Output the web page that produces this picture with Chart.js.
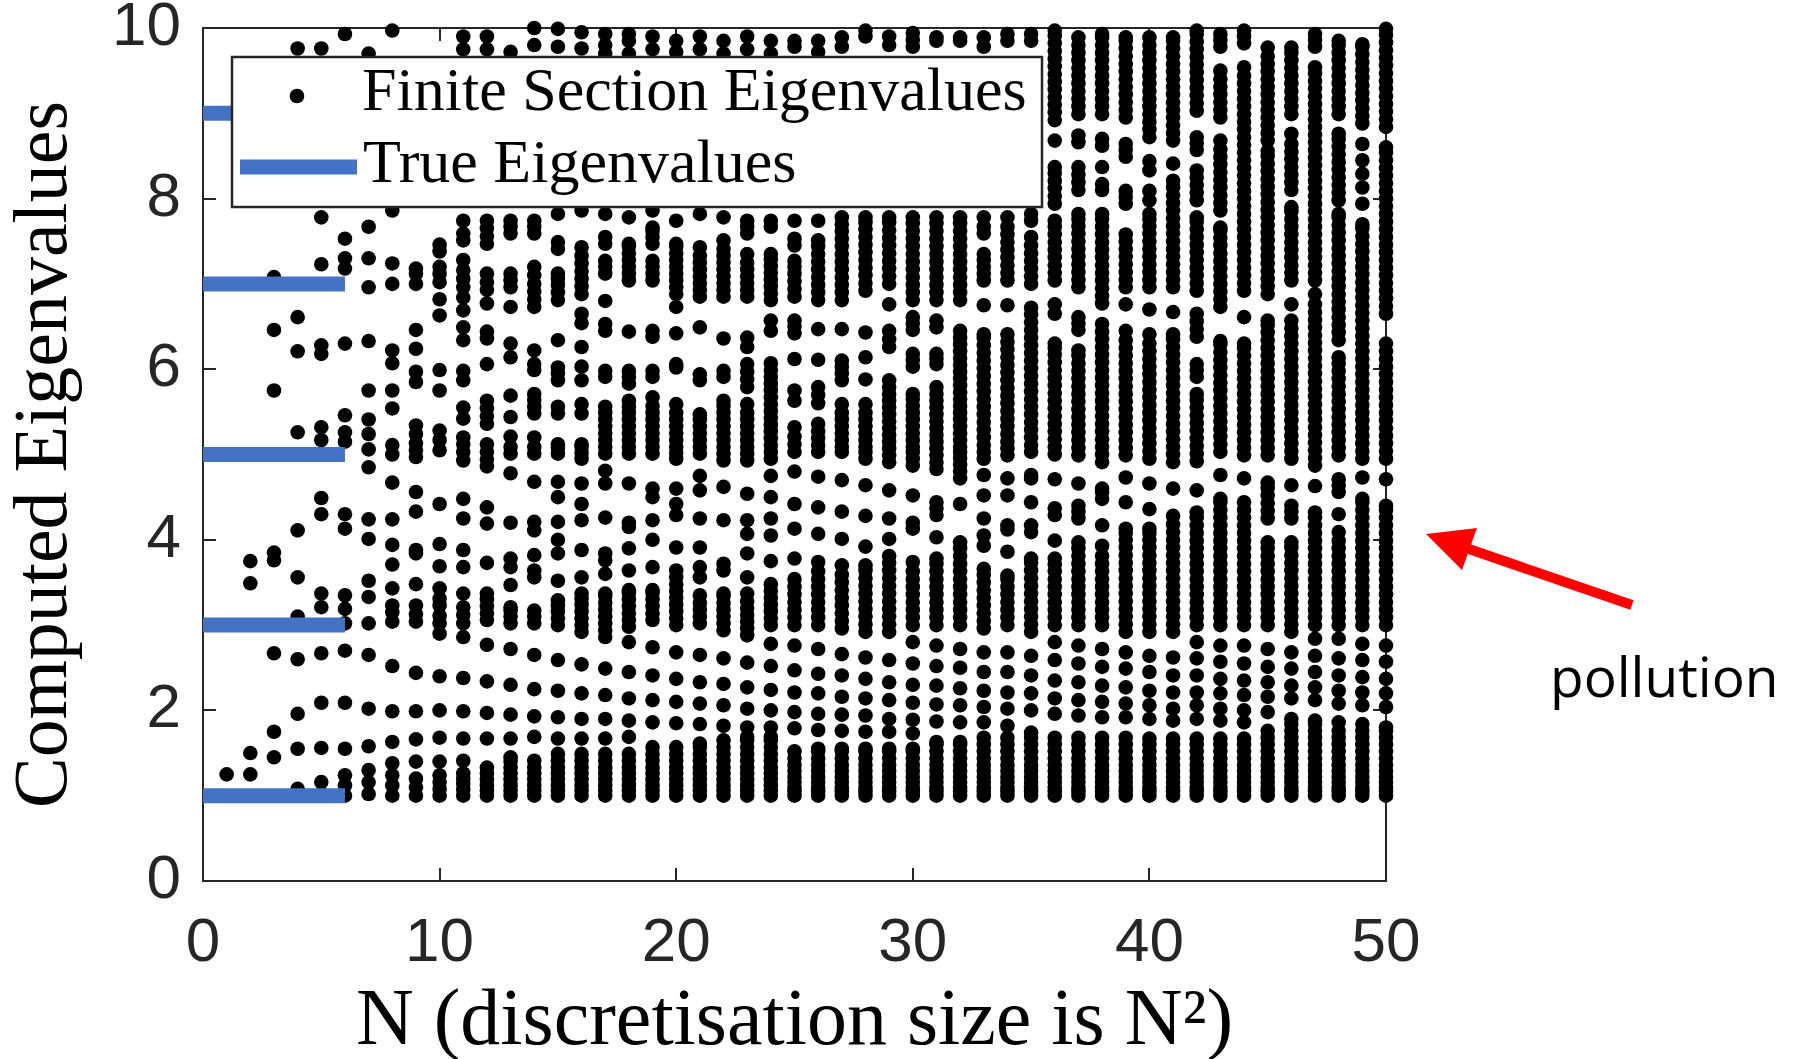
<!DOCTYPE html>
<html><head><meta charset="utf-8">
<script src="https://cdn.jsdelivr.net/npm/chart.js@4.4.1/dist/chart.umd.min.js"></script>
<style>
html,body{margin:0;padding:0;background:#fff;overflow:hidden}
#wrap{position:relative;width:1806px;height:1059px}
#c{position:absolute;left:0;top:0}
#ov{position:absolute;left:0;top:0}
</style></head><body>
<div id="wrap"><canvas id="c" width="1806" height="1059"></canvas>
<svg id="ov" width="1806" height="1059" xmlns="http://www.w3.org/2000/svg">
  <rect x="232" y="57" width="810" height="150" fill="#fff" stroke="#262626" stroke-width="2.5"/>
  <circle cx="297" cy="96" r="7.3" fill="#000"/>
  <line x1="240" y1="167" x2="357" y2="167" stroke="#4472C4" stroke-width="15"/>
  <text x="362" y="110" font-family="'Liberation Serif', serif" font-size="62" fill="#000">Finite Section Eigenvalues</text>
  <text x="363" y="182" font-family="'Liberation Serif', serif" font-size="62" fill="#000">True Eigenvalues</text>
  <line x1="1632" y1="605" x2="1466" y2="548" stroke="#FF0000" stroke-width="10"/>
  <polygon points="1426,534 1477,528 1462,570" fill="#FF0000"/>
  <text x="1550" y="697" font-family="'Open Sans', sans-serif" font-size="55" fill="#000">pollution</text>
</svg></div>
<script>
const N_values = [1,2,3,4,5,6,7,8,9,10,11,12,13,14,15,16,17,18,19,20,21,22,23,24,25,26,27,28,29,30,31,32,33,34,35,36,37,38,39,40,41,42,43,44,45,46,47,48,49,50];
const xTicks = [0,10,20,30,40,50];
const yTicks = [0,2,4,6,8,10];
const trueEigenvalues = [1,3,5,7,9];
const trueLineN = [0,6];

const col01 = [1.25];
const col02 = [1.25,1.50,3.49,3.75];
const col03 = [1.45,1.75,2.67,3.76,3.85,5.75,6.46,7.08];
const col04 = [1.08,1.55,1.96,2.60,3.10,3.56,4.11,5.26,6.21,6.61,9.76];
const col05 = [1.02,1.16,1.56,2.09,2.67,3.21,3.37,4.30,4.49,5.17,5.32,6.18,6.28,7.23,7.78,9.76];
const col06 = [1.00,1.12,1.24,1.55,2.09,2.70,3.02,3.19,3.35,4.13,4.30,5.15,5.26,5.46,6.30,7.18,7.30,7.53,9.93];
const col07 = [1.02,1.16,1.30,1.58,2.02,2.65,3.02,3.33,3.52,4.01,4.24,4.85,5.06,5.24,5.41,5.75,6.33,6.96,7.30,7.67,9.70];
const col08 = [1.00,1.12,1.24,1.38,1.63,1.99,2.52,3.04,3.15,3.23,3.43,3.71,3.94,4.24,4.67,5.00,5.11,5.54,5.75,6.07,6.22,7.00,7.24,7.86,9.97];
const col09 = [1.00,1.10,1.20,1.40,1.66,1.99,2.44,3.04,3.13,3.23,3.48,3.84,3.88,4.33,4.56,4.97,5.05,5.13,5.24,5.34,5.85,5.97,6.24,6.46,7.00,7.12,7.18];
const col10 = [1.00,1.08,1.16,1.24,1.40,1.68,2.00,2.40,2.90,3.02,3.11,3.23,3.31,3.43,3.69,3.95,4.42,5.05,5.17,5.28,5.75,5.99,6.63,6.82,7.02,7.12,7.20,7.38,7.46];
const col11 = [1.00,1.07,1.14,1.20,1.26,1.41,1.67,1.99,2.38,2.86,3.02,3.12,3.21,3.37,3.68,3.88,4.25,4.48,4.93,5.03,5.12,5.20,5.42,5.55,5.87,5.98,6.34,6.49,6.69,6.84,6.96,7.06,7.16,7.28,7.51,7.59,7.74,9.75,9.90];
const col12 = [1.00,1.06,1.12,1.19,1.26,1.33,1.67,1.97,2.34,2.77,3.06,3.14,3.22,3.30,3.37,3.73,4.19,4.38,4.86,4.94,5.03,5.12,5.36,5.45,5.54,5.63,6.06,6.36,6.44,6.77,6.93,7.02,7.12,7.47,7.56,7.65,7.74,9.75,9.90];
const col13 = [1.00,1.06,1.12,1.19,1.26,1.33,1.40,1.45,1.67,1.95,2.30,2.72,3.02,3.10,3.17,3.21,3.47,3.68,3.78,4.20,4.78,5.01,5.09,5.21,5.44,5.69,6.14,6.30,6.73,6.96,7.04,7.12,7.59,7.67,7.74,9.72];
const col14 = [1.00,1.06,1.12,1.19,1.26,1.33,1.41,1.69,1.93,2.25,2.65,3.02,3.10,3.17,3.56,3.64,3.82,4.11,4.21,4.68,5.01,5.09,5.20,5.48,5.56,5.64,5.71,5.99,6.06,6.22,6.73,6.82,6.91,7.00,7.10,7.20,7.59,7.67,7.74,9.80,10.00];
const col15 = [1.00,1.06,1.12,1.19,1.26,1.33,1.41,1.49,1.67,1.92,2.23,2.59,3.00,3.08,3.16,3.23,3.29,3.52,3.84,4.00,4.21,4.50,4.68,5.01,5.08,5.12,5.48,5.56,5.87,5.95,6.02,6.34,6.81,6.90,6.99,7.06,7.12,7.41,7.49,7.82,9.78,9.99];
const col16 = [1.00,1.06,1.12,1.19,1.26,1.33,1.41,1.49,1.67,1.90,2.20,2.54,2.92,3.00,3.08,3.16,3.24,3.31,3.37,3.56,3.88,4.23,4.42,4.66,4.95,5.02,5.09,5.12,5.48,5.59,5.87,6.03,6.26,6.54,6.65,6.88,6.97,7.06,7.15,7.24,7.33,7.43,7.86,9.76,9.95];
const col17 = [1.00,1.06,1.12,1.19,1.26,1.33,1.41,1.49,1.67,1.90,2.18,2.49,2.86,2.94,3.02,3.10,3.18,3.26,3.34,3.37,3.60,3.76,3.84,4.26,4.66,4.81,5.01,5.09,5.17,5.25,5.33,5.41,5.49,5.56,5.91,5.98,6.45,6.53,6.80,7.12,7.20,7.27,7.47,7.55,7.82,9.70,9.80,9.93];
const col18 = [1.00,1.06,1.12,1.19,1.26,1.33,1.41,1.49,1.69,1.88,2.14,2.45,2.80,2.98,3.06,3.14,3.22,3.30,3.38,3.41,3.64,3.90,4.15,4.20,4.66,5.01,5.09,5.17,5.25,5.33,5.41,5.49,5.56,5.63,5.83,5.91,5.98,6.44,7.04,7.12,7.20,7.28,7.36,7.44,7.47,7.78,9.70,9.85,9.93];
const col19 = [1.00,1.06,1.12,1.19,1.26,1.33,1.41,1.49,1.57,1.86,2.12,2.41,2.74,3.06,3.14,3.22,3.30,3.38,3.41,3.68,4.00,4.23,4.50,4.60,5.01,5.09,5.17,5.25,5.33,5.41,5.49,5.57,5.67,5.91,5.98,6.38,6.45,7.04,7.12,7.20,7.27,7.47,7.55,7.62,7.66,7.86,9.75,9.90];
const col20 = [1.00,1.06,1.12,1.19,1.26,1.33,1.41,1.49,1.57,1.85,2.10,2.37,2.68,3.00,3.08,3.16,3.24,3.32,3.40,3.48,3.56,3.64,3.91,4.29,4.42,4.60,4.95,5.02,5.09,5.17,5.25,5.33,5.41,5.49,5.59,6.02,6.06,6.42,6.73,6.88,6.96,7.04,7.12,7.20,7.28,7.36,7.44,7.47,7.74,9.72,9.85];
const col21 = [1.00,1.06,1.12,1.19,1.26,1.33,1.41,1.49,1.57,1.61,1.84,2.08,2.33,2.65,3.02,3.10,3.18,3.26,3.35,3.56,3.68,3.91,4.25,4.58,4.75,5.01,5.09,5.17,5.25,5.33,5.41,5.47,5.87,5.94,6.49,6.85,6.93,7.01,7.09,7.17,7.25,7.33,7.43,7.82,9.75,9.90];
const col22 = [1.00,1.06,1.12,1.19,1.26,1.33,1.41,1.49,1.57,1.65,1.82,2.06,2.31,2.61,2.94,3.02,3.10,3.18,3.26,3.34,3.37,3.64,3.72,4.23,4.62,4.93,5.01,5.09,5.17,5.25,5.33,5.41,5.49,5.57,5.63,5.91,5.98,6.36,6.85,6.93,7.01,7.09,7.17,7.25,7.33,7.41,7.51,7.78,9.70,9.85];
const col23 = [1.00,1.06,1.12,1.19,1.26,1.33,1.41,1.49,1.57,1.65,1.69,1.80,2.02,2.27,2.56,2.88,2.96,3.04,3.12,3.20,3.28,3.37,3.56,3.84,4.07,4.23,4.54,4.93,5.01,5.09,5.17,5.25,5.33,5.41,5.49,5.59,5.79,5.88,5.97,6.06,6.26,6.37,6.85,6.93,7.01,7.09,7.17,7.25,7.35,7.59,7.67,7.74,9.75,9.90];
const col24 = [1.00,1.06,1.12,1.19,1.26,1.33,1.41,1.49,1.57,1.65,1.69,1.80,2.00,2.24,2.52,2.78,3.00,3.08,3.16,3.24,3.32,3.40,3.48,3.75,4.05,4.25,4.50,4.75,4.95,5.03,5.11,5.19,5.27,5.35,5.43,5.51,5.59,5.67,5.75,5.83,5.91,5.99,6.07,6.45,6.57,6.81,6.89,6.97,7.05,7.13,7.21,7.29,7.35,7.67,7.74,9.70,9.85];
const col25 = [1.00,1.05,1.10,1.16,1.22,1.29,1.36,1.44,1.52,1.79,1.98,2.21,2.47,2.76,3.00,3.09,3.18,3.27,3.36,3.45,3.54,3.78,4.13,4.42,4.80,5.03,5.12,5.21,5.32,5.63,5.75,6.12,6.42,6.50,6.57,6.85,6.94,7.03,7.12,7.20,7.27,7.45,7.53,7.74,9.78,9.85];
const col26 = [1.00,1.05,1.10,1.16,1.22,1.29,1.36,1.44,1.52,1.55,1.77,1.96,2.20,2.43,2.72,3.00,3.09,3.18,3.27,3.36,3.45,3.54,3.63,3.74,4.07,4.38,4.74,5.03,5.11,5.19,5.27,5.36,5.60,5.70,5.79,6.11,6.47,6.81,6.90,6.99,7.08,7.17,7.26,7.35,7.44,7.51,7.74,9.72,9.85];
const col27 = [1.00,1.05,1.10,1.16,1.22,1.29,1.36,1.44,1.52,1.55,1.76,1.95,2.16,2.41,2.66,2.96,3.05,3.14,3.23,3.32,3.41,3.50,3.59,3.70,4.01,4.33,4.70,5.03,5.09,5.17,5.25,5.33,5.41,5.49,5.59,5.87,5.95,6.03,6.10,6.47,6.81,6.90,6.99,7.08,7.17,7.26,7.35,7.44,7.53,7.62,7.70,7.78,9.78,9.89];
const col28 = [1.00,1.05,1.10,1.16,1.22,1.29,1.36,1.44,1.52,1.55,1.75,1.94,2.14,2.37,2.62,2.92,3.01,3.10,3.19,3.28,3.37,3.46,3.55,3.64,3.70,3.92,4.28,4.64,4.95,5.03,5.09,5.17,5.25,5.33,5.41,5.49,5.59,5.88,6.14,6.43,6.92,7.01,7.10,7.19,7.28,7.37,7.46,7.55,7.64,7.72,7.78,9.90,9.97];
const col29 = [1.00,1.05,1.10,1.16,1.22,1.29,1.36,1.44,1.52,1.55,1.75,1.90,2.12,2.33,2.59,2.92,3.01,3.10,3.19,3.28,3.37,3.46,3.55,3.64,3.73,3.81,4.01,4.25,4.58,4.91,4.99,5.07,5.15,5.23,5.31,5.39,5.47,5.55,5.63,5.71,5.79,5.87,6.26,6.35,6.45,6.76,7.00,7.09,7.18,7.27,7.36,7.45,7.54,7.63,7.72,7.78,9.80,9.90];
const col30 = [1.00,1.05,1.10,1.16,1.22,1.29,1.36,1.44,1.52,1.55,1.73,1.89,2.09,2.30,2.55,2.80,3.00,3.09,3.18,3.27,3.36,3.45,3.54,3.63,3.74,4.13,4.20,4.52,4.87,4.95,5.03,5.09,5.17,5.25,5.33,5.41,5.49,5.57,5.65,5.71,6.03,6.11,6.18,6.46,6.54,6.61,6.81,6.90,6.99,7.08,7.17,7.26,7.35,7.44,7.53,7.62,7.71,7.78,9.78,9.86,9.94];
const col31 = [1.00,1.05,1.10,1.16,1.22,1.29,1.36,1.44,1.52,1.60,1.63,1.87,2.07,2.29,2.52,2.76,3.00,3.09,3.18,3.27,3.36,3.45,3.54,3.63,3.72,3.78,4.03,4.29,4.37,4.44,4.83,4.91,4.99,5.07,5.15,5.23,5.31,5.39,5.47,5.55,5.63,5.71,5.79,6.06,6.12,6.18,6.49,6.57,6.81,6.90,6.99,7.08,7.17,7.26,7.35,7.44,7.53,7.62,7.71,7.78,9.85,9.89];
const col32 = [1.00,1.05,1.10,1.16,1.22,1.29,1.36,1.44,1.52,1.60,1.63,1.86,2.06,2.26,2.50,2.72,3.00,3.09,3.18,3.27,3.36,3.45,3.54,3.63,3.72,3.81,3.90,3.97,4.42,4.72,4.80,4.88,4.96,5.03,5.09,5.17,5.25,5.33,5.41,5.49,5.57,5.65,5.73,5.81,5.89,5.97,6.05,6.13,6.21,6.29,6.37,6.45,6.81,6.90,6.99,7.08,7.17,7.26,7.35,7.44,7.53,7.62,7.71,7.78,9.85,9.89];
const col33 = [1.00,1.05,1.10,1.16,1.22,1.29,1.36,1.44,1.52,1.60,1.68,1.86,2.04,2.23,2.45,2.68,2.96,3.05,3.14,3.23,3.32,3.41,3.50,3.59,3.66,3.93,4.05,4.25,4.52,4.76,4.95,5.03,5.11,5.20,5.29,5.38,5.47,5.56,5.65,5.74,5.83,5.92,6.01,6.10,6.19,6.28,6.37,6.41,6.75,7.04,7.12,7.20,7.28,7.35,7.59,7.67,7.78,9.78,9.89];
const col34 = [1.00,1.05,1.10,1.16,1.22,1.29,1.36,1.44,1.52,1.60,1.68,1.82,2.02,2.21,2.45,2.68,3.00,3.09,3.18,3.27,3.36,3.45,3.54,3.58,3.86,4.12,4.17,4.52,4.72,4.99,5.07,5.15,5.24,5.33,5.42,5.51,5.60,5.69,5.78,5.87,5.96,6.05,6.14,6.23,6.32,6.41,6.75,7.04,7.13,7.22,7.31,7.40,7.49,7.58,7.67,7.78,9.85,9.93];
const col35 = [1.00,1.05,1.10,1.16,1.22,1.29,1.36,1.44,1.52,1.60,1.68,1.74,2.00,2.20,2.41,2.64,2.92,3.01,3.10,3.19,3.28,3.37,3.46,3.55,3.64,3.73,3.78,4.09,4.17,4.44,4.72,4.76,5.03,5.11,5.20,5.29,5.38,5.47,5.56,5.65,5.74,5.83,5.92,6.01,6.10,6.19,6.28,6.37,6.46,6.55,6.64,6.72,7.00,7.09,7.18,7.27,7.36,7.45,7.55,7.74,7.82,9.85,9.93];
const col36 = [1.00,1.05,1.10,1.16,1.22,1.29,1.36,1.44,1.52,1.60,1.68,1.96,2.14,2.35,2.59,2.80,3.00,3.09,3.18,3.27,3.36,3.45,3.54,3.63,3.71,3.78,3.99,4.29,4.37,4.71,5.00,5.09,5.18,5.27,5.36,5.45,5.54,5.63,5.72,5.81,5.90,5.99,6.08,6.17,6.25,6.30,6.65,6.76,7.04,7.13,7.22,7.31,7.40,7.49,7.58,7.67,7.74,7.94,8.03,8.12,8.21,8.30,8.37,8.68,8.92,9.01,9.10,9.19,9.28,9.37,9.46,9.55,9.64,9.73,9.82,9.91,9.97];
const col37 = [1.00,1.05,1.10,1.16,1.22,1.29,1.36,1.44,1.52,1.60,1.68,1.94,2.12,2.33,2.55,2.76,3.00,3.09,3.18,3.27,3.36,3.45,3.54,3.63,3.72,3.81,3.90,3.97,4.25,4.33,4.40,4.66,4.99,5.08,5.17,5.26,5.35,5.44,5.53,5.62,5.71,5.80,5.89,5.98,6.07,6.16,6.22,6.46,6.54,6.61,6.96,7.05,7.14,7.23,7.32,7.41,7.50,7.59,7.68,7.76,7.82,8.10,8.19,8.28,8.37,8.66,8.74,8.99,9.08,9.17,9.26,9.35,9.44,9.53,9.62,9.71,9.80,9.89];
const col38 = [1.00,1.05,1.10,1.16,1.22,1.29,1.36,1.44,1.52,1.60,1.68,1.92,2.10,2.29,2.51,2.72,3.00,3.09,3.18,3.27,3.36,3.45,3.54,3.63,3.72,3.81,3.93,4.17,4.48,4.56,4.60,4.91,5.00,5.09,5.18,5.27,5.36,5.45,5.54,5.63,5.72,5.81,5.90,5.99,6.08,6.17,6.26,6.35,6.44,6.53,6.77,6.86,6.95,7.04,7.13,7.22,7.31,7.40,7.49,7.58,7.67,7.76,7.82,8.10,8.17,8.37,8.62,8.70,8.99,9.08,9.17,9.26,9.35,9.44,9.53,9.62,9.71,9.80,9.89,9.93];
const col39 = [1.00,1.05,1.10,1.16,1.22,1.29,1.36,1.44,1.52,1.60,1.68,1.92,2.08,2.27,2.49,2.68,2.92,3.01,3.10,3.19,3.28,3.37,3.46,3.55,3.64,3.73,3.82,3.91,4.00,4.08,4.13,4.44,4.73,4.99,5.08,5.17,5.26,5.35,5.44,5.53,5.62,5.71,5.80,5.89,5.98,6.07,6.16,6.25,6.34,6.45,6.76,6.96,7.05,7.14,7.23,7.32,7.41,7.50,7.58,7.94,8.02,8.09,8.49,8.57,8.64,8.95,9.04,9.13,9.22,9.31,9.40,9.49,9.58,9.67,9.76,9.85,9.89];
const col40 = [1.00,1.05,1.10,1.16,1.22,1.29,1.36,1.44,1.52,1.60,1.67,1.90,2.06,2.23,2.45,2.64,2.92,3.01,3.10,3.19,3.28,3.37,3.46,3.55,3.64,3.73,3.82,3.91,4.00,4.08,4.13,4.36,4.66,4.95,5.04,5.13,5.22,5.31,5.40,5.49,5.58,5.67,5.76,5.85,5.94,6.03,6.12,6.21,6.30,6.41,6.70,6.96,7.05,7.14,7.23,7.32,7.41,7.50,7.59,7.68,7.76,7.82,7.98,8.09,8.33,8.44,8.72,8.81,8.90,8.99,9.08,9.17,9.26,9.35,9.44,9.53,9.62,9.71,9.80,9.89];
const col41 = [1.00,1.05,1.10,1.16,1.22,1.29,1.36,1.44,1.52,1.60,1.67,1.88,2.02,2.21,2.41,2.62,2.92,3.01,3.10,3.19,3.28,3.37,3.46,3.55,3.64,3.73,3.82,3.91,4.00,4.09,4.18,4.28,4.60,4.91,5.00,5.09,5.18,5.27,5.36,5.45,5.54,5.63,5.72,5.81,5.90,5.99,6.08,6.17,6.26,6.35,6.41,6.67,6.96,7.05,7.14,7.23,7.32,7.41,7.50,7.59,7.68,7.77,7.86,7.95,8.04,8.13,8.21,8.41,8.68,8.77,8.86,8.95,9.04,9.13,9.22,9.31,9.40,9.49,9.58,9.67,9.76,9.85,9.89];
const col42 = [1.00,1.05,1.10,1.16,1.22,1.29,1.36,1.44,1.52,1.60,1.67,1.90,2.06,2.21,2.41,2.61,2.80,3.00,3.09,3.18,3.27,3.36,3.45,3.54,3.63,3.72,3.81,3.90,3.99,4.08,4.17,4.26,4.32,4.58,4.92,5.01,5.10,5.19,5.28,5.37,5.46,5.55,5.64,5.71,5.91,5.99,6.06,6.38,6.47,6.56,6.65,6.92,7.01,7.10,7.19,7.28,7.37,7.46,7.55,7.64,7.73,7.78,7.98,8.07,8.16,8.25,8.33,8.57,8.65,8.72,9.03,9.12,9.21,9.30,9.39,9.48,9.57,9.66,9.75,9.84,9.93,9.97];
const col43 = [1.00,1.05,1.10,1.16,1.22,1.29,1.36,1.44,1.52,1.60,1.67,1.88,2.02,2.20,2.37,2.57,2.76,3.00,3.09,3.18,3.27,3.36,3.45,3.54,3.63,3.72,3.81,3.90,3.99,4.08,4.17,4.26,4.35,4.44,4.48,4.76,5.03,5.12,5.21,5.30,5.39,5.48,5.57,5.66,5.75,5.84,5.93,6.02,6.11,6.20,6.29,6.33,6.73,6.82,6.91,7.00,7.09,7.18,7.27,7.36,7.45,7.54,7.63,7.66,7.86,7.95,8.04,8.13,8.22,8.31,8.40,8.49,8.58,8.68,8.95,9.04,9.13,9.22,9.31,9.40,9.50,9.78,9.86,9.93];
const col44 = [1.00,1.05,1.10,1.16,1.22,1.29,1.36,1.44,1.52,1.60,1.67,1.86,2.00,2.18,2.35,2.55,2.76,3.00,3.09,3.18,3.27,3.36,3.45,3.54,3.63,3.72,3.81,3.90,3.99,4.08,4.17,4.26,4.35,4.44,4.72,4.99,5.08,5.17,5.26,5.35,5.44,5.53,5.62,5.71,5.80,5.89,5.98,6.07,6.16,6.25,6.30,6.61,6.92,7.01,7.10,7.19,7.28,7.37,7.46,7.55,7.64,7.73,7.82,7.91,8.00,8.09,8.18,8.27,8.36,8.45,8.54,8.63,8.72,8.81,8.90,8.99,9.08,9.17,9.26,9.35,9.44,9.54,9.82,9.90,9.97];
const col45 = [1.00,1.05,1.10,1.16,1.22,1.29,1.36,1.44,1.52,1.60,1.68,1.76,1.98,2.16,2.33,2.51,2.72,3.00,3.09,3.18,3.27,3.36,3.45,3.54,3.63,3.72,3.81,3.90,3.97,4.25,4.34,4.43,4.52,4.61,4.67,4.99,5.08,5.17,5.26,5.35,5.44,5.53,5.62,5.71,5.80,5.89,5.98,6.07,6.16,6.25,6.34,6.43,6.52,6.57,6.88,6.97,7.06,7.15,7.24,7.33,7.42,7.51,7.60,7.69,7.78,7.87,7.96,8.05,8.14,8.23,8.32,8.41,8.50,8.56,8.68,8.77,8.86,8.95,9.04,9.13,9.22,9.31,9.40,9.49,9.58,9.67,9.77];
const col46 = [1.00,1.05,1.10,1.16,1.22,1.29,1.36,1.44,1.52,1.60,1.68,1.76,1.84,1.90,2.14,2.29,2.49,2.68,2.92,3.01,3.10,3.19,3.28,3.37,3.46,3.55,3.64,3.73,3.82,3.91,3.97,4.25,4.33,4.40,4.64,4.95,5.04,5.13,5.22,5.31,5.40,5.49,5.58,5.67,5.76,5.85,5.94,6.03,6.12,6.21,6.30,6.39,6.48,6.57,6.76,7.04,7.13,7.22,7.31,7.40,7.49,7.58,7.67,7.76,7.85,7.90,8.10,8.19,8.28,8.37,8.46,8.55,8.64,8.76,8.99,9.08,9.17,9.26,9.35,9.44,9.53,9.62,9.71,9.77];
const col47 = [1.00,1.05,1.10,1.16,1.22,1.29,1.36,1.44,1.52,1.60,1.68,1.76,1.84,1.88,2.12,2.27,2.45,2.64,2.84,3.00,3.09,3.18,3.27,3.36,3.45,3.54,3.63,3.72,3.81,3.90,3.99,4.08,4.17,4.26,4.32,4.63,4.87,4.96,5.05,5.14,5.23,5.32,5.41,5.50,5.59,5.68,5.77,5.86,5.95,6.04,6.13,6.22,6.31,6.40,6.49,6.58,6.67,6.76,6.88,7.04,7.13,7.22,7.31,7.40,7.49,7.58,7.67,7.76,7.85,7.94,8.03,8.12,8.21,8.30,8.39,8.48,8.57,8.66,8.75,8.84,8.93,9.02,9.11,9.20,9.29,9.38,9.47,9.54,9.78,9.86,9.93];
const col48 = [1.00,1.05,1.10,1.16,1.22,1.29,1.36,1.44,1.52,1.60,1.68,1.76,1.86,2.08,2.23,2.41,2.61,2.84,3.00,3.09,3.18,3.27,3.36,3.45,3.54,3.63,3.72,3.81,3.90,3.99,4.09,4.30,4.56,4.64,4.71,4.99,5.08,5.17,5.26,5.35,5.44,5.53,5.62,5.71,5.80,5.89,5.98,6.07,6.14,6.34,6.43,6.52,6.61,6.70,6.79,6.88,6.97,7.06,7.15,7.24,7.33,7.42,7.51,7.60,7.69,7.78,7.82,7.98,8.07,8.16,8.25,8.34,8.43,8.52,8.61,8.70,8.76,8.99,9.08,9.17,9.26,9.35,9.44,9.53,9.62,9.71,9.80,9.85];
const col49 = [1.00,1.05,1.10,1.16,1.22,1.29,1.36,1.44,1.52,1.60,1.68,1.76,1.84,2.06,2.21,2.39,2.59,2.78,3.00,3.09,3.18,3.27,3.36,3.45,3.54,3.63,3.72,3.81,3.90,3.99,4.08,4.17,4.26,4.35,4.44,4.48,4.73,4.95,5.04,5.13,5.22,5.31,5.40,5.49,5.58,5.67,5.76,5.85,5.94,6.03,6.12,6.21,6.30,6.39,6.48,6.57,6.66,6.75,6.84,6.93,7.02,7.11,7.20,7.29,7.38,7.47,7.56,7.65,7.70,7.94,8.13,8.29,8.45,8.64,8.88,8.97,9.06,9.15,9.24,9.33,9.42,9.51,9.60,9.69,9.78,9.81];
const col50 = [1.00,1.05,1.10,1.16,1.22,1.29,1.36,1.44,1.52,1.60,1.68,1.76,1.80,2.04,2.20,2.37,2.57,2.76,3.00,3.09,3.18,3.27,3.36,3.45,3.54,3.63,3.72,3.81,3.90,3.99,4.08,4.17,4.26,4.35,4.40,4.71,4.95,5.04,5.13,5.22,5.31,5.40,5.49,5.58,5.67,5.76,5.85,5.94,6.03,6.12,6.21,6.30,6.65,6.74,6.83,6.92,7.01,7.10,7.19,7.28,7.37,7.46,7.55,7.64,7.73,7.82,7.91,8.00,8.09,8.18,8.27,8.36,8.45,8.54,8.60,8.84,8.93,9.02,9.11,9.20,9.29,9.38,9.47,9.56,9.65,9.74,9.83,9.92,9.99];

const columns = [col01,col02,col03,col04,col05,col06,col07,col08,col09,col10,col11,col12,col13,col14,col15,col16,col17,col18,col19,col20,col21,col22,col23,col24,col25,col26,col27,col28,col29,col30,col31,col32,col33,col34,col35,col36,col37,col38,col39,col40,col41,col42,col43,col44,col45,col46,col47,col48,col49,col50];

const scatterPoints = [];
columns.forEach((vals, i) => vals.forEach(v => scatterPoints.push({x: N_values[i], y: v})));

const axisColor = '#262626';
const lineDatasets = trueEigenvalues.map(v => ({
  type: 'line',
  label: 'True Eigenvalues',
  data: trueLineN.map(n => ({x: n, y: v})),
  borderColor: '#4472C4',
  backgroundColor: '#4472C4',
  borderWidth: 15,
  borderCapStyle: 'butt',
  pointRadius: 0,
  fill: false,
  order: 0,
  clip: false
}));

const frameGrid = {drawOnChartArea: false, drawTicks: true, tickLength: -13, color: axisColor, lineWidth: 2};
const frameBorder = {display: true, color: axisColor, width: 2};
function noPad(s) { s.paddingTop = 0; s.paddingBottom = 0; s.paddingLeft = 0; s.paddingRight = 0; }

new Chart(document.getElementById('c'), {
  type: 'scatter',
  data: {
    datasets: [
      ...lineDatasets,
      {
        label: 'Finite Section Eigenvalues',
        data: scatterPoints,
        backgroundColor: '#000',
        pointBackgroundColor: '#000',
        pointBorderWidth: 0,
        pointRadius: 7.3,
        pointHoverRadius: 7.3,
        order: 1,
        clip: false
      }
    ]
  },
  options: {
    responsive: false,
    animation: false,
    devicePixelRatio: 1,
    events: [],
    layout: {padding: {top: 28, right: 420, left: 0, bottom: 0}, autoPadding: false},
    plugins: {legend: {display: false}, tooltip: {enabled: false}},
    scales: {
      x: {
        type: 'linear', position: 'bottom', min: 0, max: 50,
        afterBuildTicks: s => { s.ticks = xTicks.map(v => ({value: v})); },
        ticks: {font: {family: "'Liberation Sans', Arial, sans-serif", size: 62, lineHeight: 1}, color: axisColor, padding: 45, maxRotation: 0, autoSkip: false},
        grid: frameGrid, border: frameBorder,
        title: {display: true, text: 'N (discretisation size is N²)', color: '#000',
                font: {family: "'Liberation Serif', serif", size: 80, lineHeight: 0.9}, padding: {top: 0, bottom: 0}},
        afterFit: s => { s.height = 178; noPad(s); }
      },
      x2: {
        type: 'linear', position: 'top', min: 0, max: 50,
        afterBuildTicks: s => { s.ticks = xTicks.map(v => ({value: v})); },
        ticks: {display: false}, grid: frameGrid, border: frameBorder,
        afterFit: s => { s.height = 0; noPad(s); }
      },
      y: {
        type: 'linear', position: 'left', min: 0, max: 10,
        afterBuildTicks: s => { s.ticks = yTicks.map(v => ({value: v})); },
        ticks: {font: {family: "'Liberation Sans', Arial, sans-serif", size: 62, lineHeight: 0.8}, color: axisColor, padding: 35, autoSkip: false},
        grid: frameGrid, border: frameBorder,
        title: {display: true, text: 'Computed Eigenvalues', color: '#000',
                font: {family: "'Liberation Serif', serif", size: 76, lineHeight: 1.2}, padding: {top: 0, bottom: 0}},
        afterFit: s => { s.width = 203; noPad(s); }
      },
      y2: {
        type: 'linear', position: 'right', min: 0, max: 10,
        afterBuildTicks: s => { s.ticks = yTicks.map(v => ({value: v})); },
        ticks: {display: false}, grid: frameGrid, border: frameBorder,
        afterFit: s => { s.width = 0; noPad(s); }
      }
    }
  }
});
</script>
</body></html>
